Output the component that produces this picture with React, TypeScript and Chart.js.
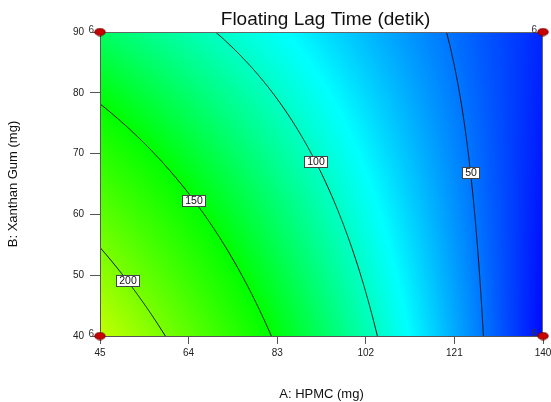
import React, { useEffect, useRef } from "react";
import { Chart, registerables } from "chart.js";

Chart.register(...registerables);

const TITLE = "Floating Lag Time (detik)";
const X_TITLE = "A: HPMC (mg)";
const Y_TITLE = "B: Xanthan Gum (mg)";
const X_TICKS = [45, 64, 83, 102, 121, 140];
const Y_TICKS = [40, 50, 60, 70, 80, 90];
const A_RANGE = [45, 140];
const B_RANGE = [40, 90];
// fitted response model in coded units: intercept, A, B, AB
const MODEL_COEFFS = [101.7, -76.2, -24.65, 28.25];
const CONTOUR_LEVELS = [50, 100, 150, 200];
const LABEL_B = [66.8, 68.6, 62.2, 49.0];
const COLOR_STOPS = [20, 85, 150, 255];
const COLOR_RGB = [
  [0, 0, 255],
  [0, 255, 255],
  [0, 255, 0],
  [255, 255, 0],
];
const DESIGN_A = [45, 140, 45, 140];
const DESIGN_B = [40, 40, 90, 90];
const DESIGN_RUNS = [6, 6, 6, 6];

const FONT = "Arial, 'Liberation Sans', sans-serif";

const coded = (v: number, r: number[]) => (v - (r[0] + r[1]) / 2) / ((r[1] - r[0]) / 2);
const uncoded = (c: number, r: number[]) => (r[0] + r[1]) / 2 + c * ((r[1] - r[0]) / 2);

function predict(A: number, B: number) {
  const a = coded(A, A_RANGE);
  const b = coded(B, B_RANGE);
  const [c0, c1, c2, c3] = MODEL_COEFFS;
  return c0 + c1 * a + c2 * b + c3 * a * b;
}

function solveA(level: number, B: number) {
  const b = coded(B, B_RANGE);
  const [c0, c1, c2, c3] = MODEL_COEFFS;
  const a = (level - c0 - c2 * b) / (c1 + c3 * b);
  return uncoded(a, A_RANGE);
}

function colorFor(y: number): number[] {
  if (y <= COLOR_STOPS[0]) return COLOR_RGB[0];
  for (let i = 1; i < COLOR_STOPS.length; i++) {
    if (y <= COLOR_STOPS[i]) {
      const t = (y - COLOR_STOPS[i - 1]) / (COLOR_STOPS[i] - COLOR_STOPS[i - 1]);
      const c0 = COLOR_RGB[i - 1];
      const c1 = COLOR_RGB[i];
      return [0, 1, 2].map((k) => Math.round(c0[k] + (c1[k] - c0[k]) * t));
    }
  }
  return COLOR_RGB[COLOR_RGB.length - 1];
}

const surfacePlugin = {
  id: "surface",
  beforeDraw(chart: any) {
    const { ctx, chartArea } = chart;
    const xs = chart.scales.x;
    const ys = chart.scales.y;
    const left = Math.round(chartArea.left);
    const top = Math.round(chartArea.top);
    const w = Math.round(chartArea.right) - left;
    const h = Math.round(chartArea.bottom) - top;

    // colour field
    const off = document.createElement("canvas");
    off.width = w;
    off.height = h;
    const octx = off.getContext("2d")!;
    const img = octx.createImageData(w, h);
    for (let j = 0; j < h; j++) {
      const B = ys.getValueForPixel(top + j + 0.5);
      for (let i = 0; i < w; i++) {
        const A = xs.getValueForPixel(left + i + 0.5);
        const c = colorFor(predict(A, B));
        const p = (j * w + i) * 4;
        img.data[p] = c[0];
        img.data[p + 1] = c[1];
        img.data[p + 2] = c[2];
        img.data[p + 3] = 255;
      }
    }
    octx.putImageData(img, 0, 0);
    ctx.save();
    ctx.drawImage(off, left, top);

    // contour lines
    ctx.beginPath();
    ctx.rect(chartArea.left, chartArea.top, chartArea.right - chartArea.left, chartArea.bottom - chartArea.top);
    ctx.clip();
    ctx.strokeStyle = "#111";
    ctx.lineWidth = 1;
    CONTOUR_LEVELS.forEach((lvl) => {
      ctx.beginPath();
      const n = 300;
      for (let k = 0; k <= n; k++) {
        const B = B_RANGE[0] + ((B_RANGE[1] - B_RANGE[0]) * k) / n;
        const A = solveA(lvl, B);
        const px = xs.getPixelForValue(A);
        const py = ys.getPixelForValue(B);
        if (k === 0) ctx.moveTo(px, py);
        else ctx.lineTo(px, py);
      }
      ctx.stroke();
    });

    // contour labels
    ctx.font = `10.5px ${FONT}`;
    ctx.textAlign = "center";
    ctx.textBaseline = "middle";
    CONTOUR_LEVELS.forEach((lvl, idx) => {
      const B = LABEL_B[idx];
      const A = solveA(lvl, B);
      const px = Math.round(xs.getPixelForValue(A));
      const py = Math.round(ys.getPixelForValue(B));
      const txt = String(lvl);
      const tw = ctx.measureText(txt).width;
      const bw = Math.round(tw + 6);
      const bh = 12;
      const bx = px - Math.round(bw / 2);
      const by = py - bh / 2;
      ctx.fillStyle = "#ffffff";
      ctx.fillRect(bx, by, bw, bh);
      ctx.strokeStyle = "#444";
      ctx.strokeRect(bx + 0.5, by + 0.5, bw - 1, bh - 1);
      ctx.fillStyle = "#111";
      ctx.fillText(txt, px, py + 0.5);
    });
    ctx.restore();

    // frame
    ctx.save();
    ctx.strokeStyle = "#666";
    ctx.lineWidth = 1;
    ctx.strokeRect(left + 0.5, top + 0.5, w - 1, h);
    ctx.restore();

    // design point replicate counts
    ctx.save();
    ctx.font = `10px ${FONT}`;
    ctx.fillStyle = "#333";
    ctx.textAlign = "right";
    ctx.textBaseline = "middle";
    DESIGN_A.forEach((A, i) => {
      const px = xs.getPixelForValue(A);
      const py = ys.getPixelForValue(DESIGN_B[i]);
      ctx.fillText(String(DESIGN_RUNS[i]), px - 6, py - 2);
    });
    ctx.restore();
  },
  afterDraw(chart: any) {
    const { ctx, chartArea } = chart;
    ctx.save();
    ctx.font = `19px ${FONT}`;
    ctx.fillStyle = "#111";
    ctx.textAlign = "center";
    ctx.textBaseline = "alphabetic";
    ctx.fillText(TITLE, (chartArea.left + chartArea.right) / 2 + 4, 25);
    ctx.restore();
  },
};

function makeDot() {
  const c = document.createElement("canvas");
  c.width = 12;
  c.height = 9;
  const g = c.getContext("2d")!;
  g.beginPath();
  g.ellipse(6, 4.5, 5.2, 3.6, 0, 0, Math.PI * 2);
  g.fillStyle = "#c80000";
  g.fill();
  g.strokeStyle = "#7a0000";
  g.lineWidth = 1;
  g.stroke();
  return c;
}

export default function App() {
  const ref = useRef<HTMLCanvasElement | null>(null);
  useEffect(() => {
    if (!ref.current) return;
    const dot = makeDot();
    const chart = new Chart(ref.current, {
      type: "scatter",
      data: {
        datasets: [
          {
            data: DESIGN_A.map((a, i) => ({ x: a, y: DESIGN_B[i] })),
            pointStyle: dot as any,
            pointRadius: 6,
            clip: false as any,
          },
        ],
      },
      options: {
        animation: false,
        responsive: false,
        devicePixelRatio: 1,
        layout: { padding: { top: 32, right: 8, left: 0, bottom: 0 } },
        plugins: {
          legend: { display: false },
          tooltip: { enabled: false },
          title: { display: false },
        },
        scales: {
          x: {
            type: "linear",
            min: A_RANGE[0],
            max: A_RANGE[1],
            afterBuildTicks: (s: any) => {
              s.ticks = X_TICKS.map((v) => ({ value: v }));
            },
            afterFit: (s: any) => {
              s.height = 66;
              s.paddingLeft = 0;
              s.paddingRight = 0;
            },
            grid: { drawOnChartArea: false, tickLength: 8, color: "#555" },
            border: { color: "#555" },
            ticks: { font: { family: FONT, size: 10 }, color: "#222", padding: 3, maxRotation: 0, autoSkip: false },
            title: { display: true, text: X_TITLE, font: { family: FONT, size: 13 }, color: "#111", padding: { top: 0, bottom: 0 } },
          },
          y: {
            type: "linear",
            min: B_RANGE[0],
            max: B_RANGE[1],
            afterBuildTicks: (s: any) => {
              s.ticks = Y_TICKS.map((v) => ({ value: v }));
            },
            afterFit: (s: any) => {
              s.width = 100;
              s.paddingTop = 0;
              s.paddingBottom = 0;
            },
            grid: { drawOnChartArea: false, tickLength: 10, color: "#555" },
            border: { color: "#555" },
            ticks: { font: { family: FONT, size: 10 }, color: "#222", padding: 6 },
            title: { display: true, text: Y_TITLE, font: { family: FONT, size: 13 }, color: "#111", padding: { top: 6, bottom: 0 } },
          },
        },
      },
      plugins: [surfacePlugin],
    });
    return () => chart.destroy();
  }, []);
  return (
    <div style={{ position: "fixed", left: 0, top: 0, width: 551, height: 402, background: "#fff" }}>
      <canvas ref={ref} width={551} height={402} style={{ display: "block" }} />
    </div>
  );
}
